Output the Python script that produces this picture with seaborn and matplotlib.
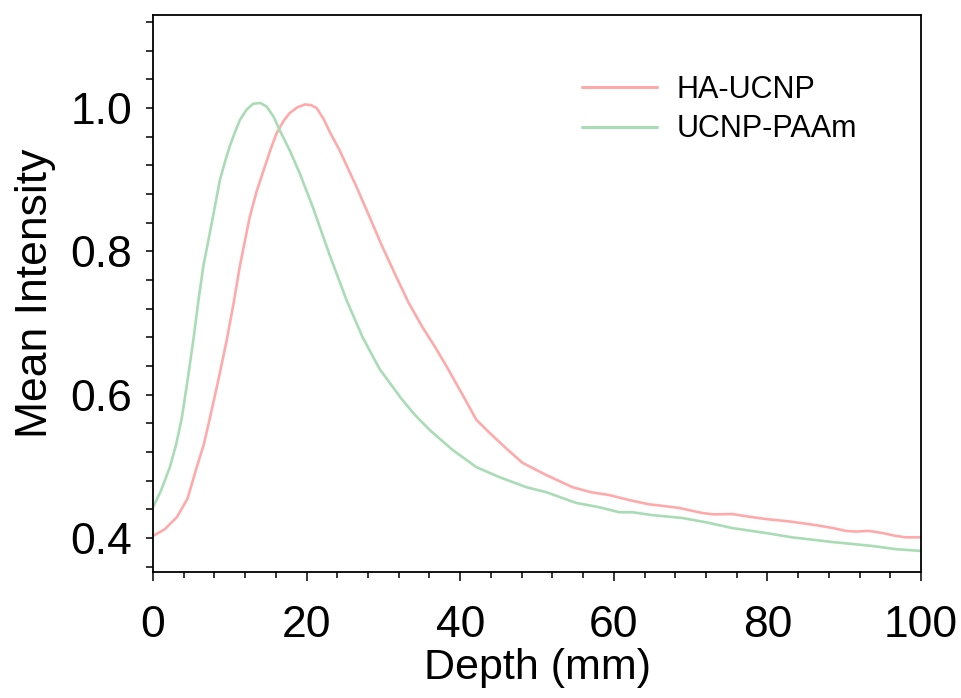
import matplotlib
matplotlib.use("Agg")
import matplotlib.pyplot as plt
import seaborn as sns
import pandas as pd
from matplotlib.ticker import MultipleLocator, FormatStrFormatter

# ---- data ----
ha_depth = [0, 1.5, 3.1, 4.5, 5.7, 6.6, 7.4, 8.5, 9.6, 10.5, 11.3, 12.6, 13.5,
            14.4, 15.3, 16.1, 17.0, 17.8, 18.8, 19.8, 20.6, 21.3, 22.2, 23.0,
            24.3, 26.5, 28.2, 29.8, 31.7, 33.3, 35.1, 36.7, 38.2, 40.3, 42.1,
            43.8, 46.0, 48.1, 51.0, 54.6, 57.0, 59.4, 62.0, 64.6, 66.3, 68.5,
            71.5, 73.0, 75.4, 77.5, 79.8, 83.0, 86.3, 88.5, 90.2, 91.5, 93.2,
            95.0, 96.7, 98.0, 100.0]
ha_intensity = [0.403, 0.412, 0.429, 0.455, 0.499, 0.530, 0.567, 0.620, 0.676,
                0.728, 0.779, 0.848, 0.884, 0.913, 0.942, 0.965, 0.982, 0.993,
                1.001, 1.005, 1.004, 1.000, 0.985, 0.967, 0.941, 0.890, 0.848,
                0.808, 0.764, 0.728, 0.694, 0.667, 0.640, 0.600, 0.565, 0.547,
                0.525, 0.505, 0.489, 0.471, 0.464, 0.460, 0.453, 0.447, 0.445,
                0.442, 0.435, 0.433, 0.4335, 0.430, 0.4265, 0.423, 0.418, 0.414,
                0.410, 0.409, 0.410, 0.407, 0.403, 0.401, 0.401]

paam_depth = [0, 1.0, 2.2, 3.0, 3.74, 4.5, 5.25, 5.9, 6.55, 7.64, 8.72, 9.4,
              10.0, 10.7, 11.3, 12.2, 13.06, 14.0, 14.8, 15.7, 16.5, 17.8, 19.1,
              20.8, 23.0, 25.2, 27.3, 29.5, 32.3, 34.0, 36.0, 39.0, 42.1, 45.1,
              48.6, 51.2, 55.1, 58.1, 60.7, 62.4, 65.0, 68.9, 72.0, 75.4, 79.8,
              83.2, 88.4, 93.6, 96.7, 100.0]
paam_intensity = [0.443, 0.465, 0.499, 0.530, 0.567, 0.620, 0.676, 0.730, 0.779,
                  0.839, 0.900, 0.926, 0.947, 0.967, 0.983, 0.998, 1.006, 1.007,
                  1.002, 0.988, 0.969, 0.941, 0.909, 0.862, 0.795, 0.732, 0.680,
                  0.636, 0.595, 0.573, 0.551, 0.523, 0.499, 0.485, 0.471, 0.464,
                  0.449, 0.443, 0.436, 0.436, 0.432, 0.428, 0.422, 0.414, 0.407,
                  0.401, 0.3945, 0.389, 0.3845, 0.382]

series_names = ["HA-UCNP", "UCNP-PAAm"]
series_colors = ["#ffaaaa", "#a9dcb5"]

df = pd.concat([
    pd.DataFrame({"Depth": ha_depth, "Intensity": ha_intensity, "Sample": series_names[0]}),
    pd.DataFrame({"Depth": paam_depth, "Intensity": paam_intensity, "Sample": series_names[1]}),
], ignore_index=True)

sns.set_style("ticks")
plt.rcParams["font.family"] = ["Liberation Sans", "DejaVu Sans"]
plt.rcParams["text.color"] = "black"
plt.rcParams["axes.labelcolor"] = "black"
plt.rcParams["xtick.color"] = "black"
plt.rcParams["ytick.color"] = "black"

fig = plt.figure(figsize=(9.61, 6.98), dpi=100)
ax = fig.add_axes([0.1592, 0.1805, 0.7992, 0.798])

sns.lineplot(data=df, x="Depth", y="Intensity", hue="Sample",
             palette=dict(zip(series_names, series_colors)),
             linewidth=1.9, ax=ax, sort=False, estimator=None)

ax.set_xlim(0, 100)
ax.set_ylim(0.3526, 1.1298)
ax.xaxis.set_major_locator(MultipleLocator(20))
ax.xaxis.set_minor_locator(MultipleLocator(4))
ax.yaxis.set_major_locator(MultipleLocator(0.2))
ax.yaxis.set_minor_locator(MultipleLocator(0.04))
ax.yaxis.set_major_formatter(FormatStrFormatter("%.1f"))

for s in ax.spines.values():
    s.set_visible(True)
    s.set_linewidth(1.3)
    s.set_color("black")

ax.tick_params(axis="x", which="major", direction="out", length=6.5, width=1.1,
               labelsize=32, pad=17, colors="black")
ax.tick_params(axis="x", which="minor", direction="out", length=4.5, width=1.1)
ax.tick_params(axis="y", which="major", direction="out", length=5, width=1.1,
               labelsize=32, pad=10, colors="black")
ax.tick_params(axis="y", which="minor", direction="out", length=5, width=1.1)

ax.set_xlabel("Depth (mm)", fontsize=31, labelpad=2, color="black")
ax.set_ylabel("Mean Intensity", fontsize=32, labelpad=10, color="black")

leg = ax.legend(loc="upper left", frameon=False, fontsize=22,
                handlelength=2.45, handletextpad=0.65, labelspacing=0.3,
                bbox_to_anchor=(0.543, 0.914), borderaxespad=0)
for line in leg.get_lines():
    line.set_linewidth(2.2)
for t in leg.get_texts():
    t.set_color("black")

fig.savefig("out.png", dpi=100)
